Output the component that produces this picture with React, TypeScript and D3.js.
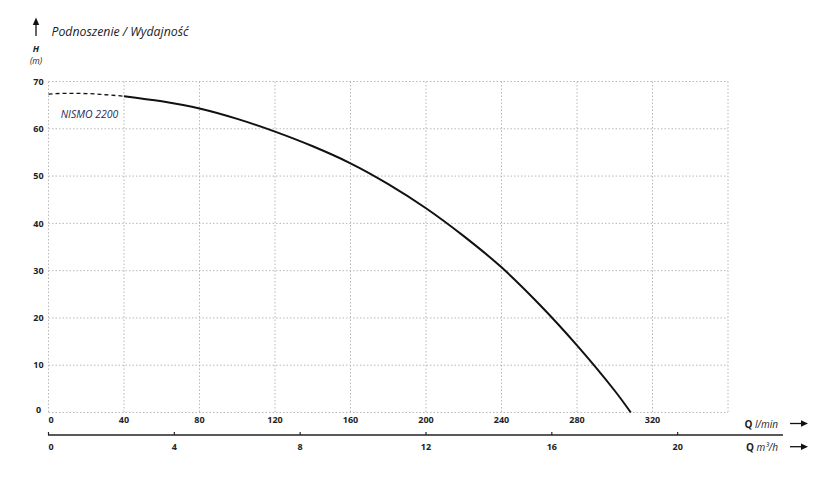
import React, { useEffect } from 'react';
import * as d3 from 'd3';

// Pump curve, Q in l/min, H in m
const dashedQ = [0, 10, 20, 30, 40];
const dashedH = [67.35, 67.5, 67.45, 67.2, 66.9];
const solidQ = [40, 60, 80, 100, 120, 140, 160, 180, 200, 220, 240, 260, 280, 300, 308.5];
const solidH = [66.9, 65.8, 64.3, 62.1, 59.4, 56.3, 52.7, 48.3, 43.2, 37.3, 30.7, 22.9, 14.2, 4.6, 0];

const qTicks = [0, 40, 80, 120, 160, 200, 240, 280, 320];
const qGrid = [0, 40, 80, 120, 160, 200, 240, 280, 320, 360];
const hTicks = [0, 10, 20, 30, 40, 50, 60, 70];
const m3Ticks = [0, 4, 8, 12, 16, 20];

const W = 832;
const H = 479;
const font = '"Open Sans", "DejaVu Sans", sans-serif';

const App: React.FC = () => {
  useEffect(() => {
    document.body.style.margin = '0';
  }, []);

  const x = d3.scaleLinear().domain([0, 360]).range([48.5, 728]);
  const y = d3.scaleLinear().domain([0, 70]).range([412.5, 81.5]);
  // m3/h -> l/min
  const xm = (v: number) => x((v * 1000) / 60);

  const line = d3.line<number>()
    .x(d => x(d))
    .curve(d3.curveMonotoneX);

  const dashPath = line.y((d, i) => y(dashedH[i]))(dashedQ) || '';
  const solidPath = d3.line<number>()
    .x(d => x(d))
    .y((d, i) => y(solidH[i]))
    .curve(d3.curveCatmullRom.alpha(0.5))(solidQ) || '';

  const axisY2 = 435;
  const arrow = (yy: number, key: string) => (
    <g key={key}>
      <line x1={790} x2={803} y1={yy} y2={yy} stroke="#111" strokeWidth={1.3} />
      <path d={`M808,${yy} L801,${yy - 3.2} L801,${yy + 3.2} Z`} fill="#111" />
    </g>
  );

  return (
    <svg width={W} height={H} style={{ display: 'block', background: '#fff' }} fontFamily={font}>
      {/* grid */}
      <g stroke="#b8b8b8" strokeWidth={1} strokeDasharray="1.5,2">
        {hTicks.map(t => (
          <line key={'h' + t} x1={x(0)} x2={x(360)} y1={y(t)} y2={y(t)} />
        ))}
        {qGrid.map(t => (
          <line key={'v' + t} x1={x(t)} x2={x(t)} y1={y(70)} y2={y(0)} />
        ))}
      </g>

      {/* y labels */}
      <g fontSize={9} fontWeight={700} fill="#222" textAnchor="middle">
        {hTicks.map(t => (
          <text key={t} x={38.5} y={y(t) - (t === 0 ? 3 : 0)} dy="0.35em">{t}</text>
        ))}
      </g>

      {/* x labels l/min */}
      <g fontSize={9} fontWeight={700} fill="#222" textAnchor="middle">
        {qTicks.map(t => (
          <text key={t} x={x(t) + (t === 0 ? 2.5 : 0)} y={420} dy="0.35em">{t}</text>
        ))}
      </g>

      {/* m3/h axis */}
      <line x1={48} x2={783} y1={axisY2} y2={axisY2} stroke="#222" strokeWidth={1.3} />
      <g stroke="#222" strokeWidth={1.2}>
        {m3Ticks.map(t => (
          <line key={t} x1={xm(t)} x2={xm(t)} y1={axisY2 - 3} y2={axisY2} />
        ))}
      </g>
      <g fontSize={9} fontWeight={700} fill="#222" textAnchor="middle">
        {m3Ticks.map(t => (
          <text key={t} x={xm(t) + (t === 0 ? 2.5 : 0)} y={447} dy="0.35em">{t}</text>
        ))}
      </g>

      {/* axis names */}
      <text x={778} y={424} dy="0.35em" textAnchor="end" fontSize={10} fill="#222">
        <tspan fontWeight={700}>Q</tspan>
        <tspan fontStyle="italic"> l/min</tspan>
      </text>
      <text x={778} y={447} dy="0.35em" textAnchor="end" fontSize={10} fill="#222">
        <tspan fontWeight={700}>Q</tspan>
        <tspan fontStyle="italic"> m³/h</tspan>
      </text>
      {arrow(423.5, 'a1')}
      {arrow(446.7, 'a2')}

      {/* title and H label */}
      <line x1={36} x2={36} y1={36} y2={23} stroke="#111" strokeWidth={1.3} />
      <path d="M36,17.5 L32.8,25 L39.2,25 Z" fill="#111" />
      <text x={51.5} y={31.7} dy="0.35em" fontSize={12.5} fontStyle="italic" fill="#222"
        textLength={137} lengthAdjust="spacingAndGlyphs">Podnoszenie / Wydajność</text>
      <text x={36} y={49.3} dy="0.35em" textAnchor="middle" fontSize={9} fontWeight={700} fontStyle="italic" fill="#222">H</text>
      <text x={36} y={61} dy="0.35em" textAnchor="middle" fontSize={8.5} fontStyle="italic" fill="#222">(m)</text>

      {/* curve */}
      <path d={dashPath} fill="none" stroke="#111" strokeWidth={1.3} strokeDasharray="4,3" />
      <path d={solidPath} fill="none" stroke="#111" strokeWidth={2} />
      <text x={60.7} y={114.3} dy="0.35em" fontSize={10.5} fontStyle="italic" fill="#1e2a55"
        textLength={57.5} lengthAdjust="spacingAndGlyphs">NISMO 2200</text>
    </svg>
  );
};

export default App;
